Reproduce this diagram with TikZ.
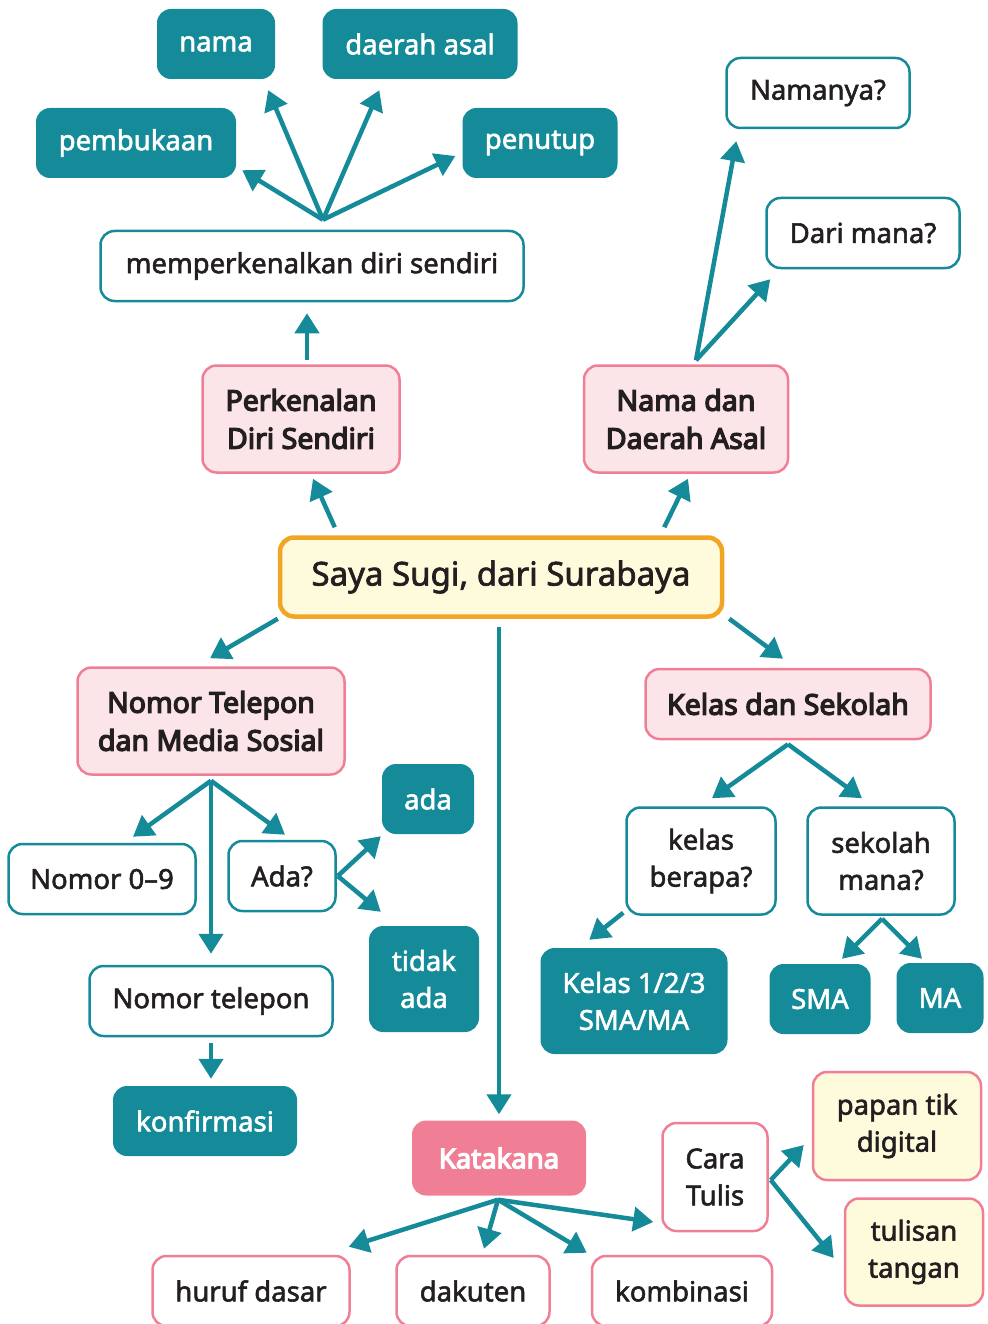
\documentclass[tikz,border=0pt]{standalone}
\usepackage{fontspec}
\setmainfont{Noto Sans}
\newfontfamily\medium{Noto Sans}[FakeBold=2]
\newfontfamily\heavy{Noto Sans}[FakeBold=4.5]
\usetikzlibrary{arrows.meta,calc}

\definecolor{tealc}{HTML}{158B99}
\definecolor{pinkline}{HTML}{F07F96}
\definecolor{pinkfill}{HTML}{FCE5E9}
\definecolor{yellowfill}{HTML}{FEFADC}
\definecolor{orangeline}{HTML}{F2A424}
\definecolor{ink}{HTML}{231F20}

\begin{document}
\begin{tikzpicture}[x=1pt, y=-1pt,
  box/.style = {rounded corners=14, align=center, inner sep=0, minimum height=70,
                font=\fontsize{27.5}{37}\medium, text=ink},
  tealbox/.style = {box, fill=tealc, text=white},
  whitebox/.style = {box, draw=tealc, line width=2.5, fill=white},
  topicbox/.style = {box, draw=pinkline, line width=2.5, fill=pinkfill,
                     font=\fontsize{28.5}{38}\heavy},
  mainbox/.style = {box, draw=orangeline, line width=4.5, fill=yellowfill,
                    font=\fontsize{33}{36}\medium},
  katabox/.style = {box, fill=pinkline, text=white, font=\fontsize{27.5}{37}\heavy},
  carabox/.style = {box, draw=pinkline, line width=2.5, fill=white},
  ybox/.style = {box, draw=pinkline, line width=2.5, fill=yellowfill},
  arr/.style = {draw=tealc, line width=4.5, -{Triangle[length=20,width=24]}}]

\useasboundingbox (0,0) rectangle (987,1324);

% top left: perkenalan
\node[tealbox, minimum width=118] (nama) at (216,44) {nama};
\node[tealbox, minimum width=195] (asal) at (420,44) {daerah asal};
\node[tealbox, minimum width=200] (buka) at (136,143) {pembukaan};
\node[tealbox, minimum width=155] (tutup) at (540,143) {penutup};
\node[whitebox, minimum width=423] (diri) at (312,266) {memperkenalkan diri sendiri};
\node[topicbox, minimum width=197, minimum height=107] (perk) at (301,419) {Perkenalan\\Diri Sendiri};

% top right: nama dan asal
\node[topicbox, minimum width=204, minimum height=107] (nda) at (686,419) {Nama dan\\Daerah Asal};
\node[whitebox, minimum width=183] (namanya) at (818,93) {Namanya?};
\node[whitebox, minimum width=193] (darimana) at (863,233) {Dari mana?};

% center
\node[mainbox, minimum width=442, minimum height=79] (saya) at (501,577) {Saya Sugi, dari Surabaya};

% left: telepon
\node[topicbox, minimum width=267, minimum height=107] (telp) at (211,721) {Nomor Telepon\\dan Media Sosial};
\node[whitebox, minimum width=187] (nol) at (102,879) {Nomor 0–9};
\node[whitebox, minimum width=107] (adaq) at (282,876) {Ada?};
\node[tealbox, minimum width=92] (ada) at (428,799) {ada};
\node[tealbox, minimum width=110, minimum height=106] (tidak) at (424,979) {tidak\\ada};
\node[whitebox, minimum width=243] (nomor) at (211,1001) {Nomor telepon};
\node[tealbox, minimum width=184] (konf) at (205,1121) {konfirmasi};

% right: kelas
\node[topicbox, minimum width=285] (kelas) at (788,704) {Kelas dan Sekolah};
\node[whitebox, minimum width=149, minimum height=107] (berapa) at (701,861) {kelas\\berapa?};
\node[whitebox, minimum width=147, minimum height=107] (mana) at (881,861) {sekolah\\mana?};
\node[tealbox, minimum width=187, minimum height=106] (kls) at (634,1001) {Kelas 1/2/3\\SMA/MA};
\node[tealbox, minimum width=101] (sma) at (820,999) {SMA};
\node[tealbox, minimum width=87] (ma) at (940,998) {MA};

% bottom: katakana
\node[katabox, minimum width=174, minimum height=75] (kata) at (499,1158) {Katakana};
\node[carabox, minimum width=197] (huruf) at (251,1291) {huruf dasar};
\node[carabox, minimum width=153] (daku) at (473,1291) {dakuten};
\node[carabox, minimum width=180] (kombi) at (682,1291) {kombinasi};
\node[carabox, minimum width=105, minimum height=108] (cara) at (715,1177) {Cara\\Tulis};
\node[ybox, minimum width=168, minimum height=108] (papan) at (897,1126) {papan tik\\digital};
\node[ybox, minimum width=138, minimum height=107] (tulisan) at (914,1252) {tulisan\\tangan};

% branch points
\coordinate (h1) at ($(diri.north)+(11,-10)$);
\coordinate (h2) at ($(nda.north)+(10,-4)$);
\coordinate (h3) at ($(telp.south)+(0,5)$);
\coordinate (h4) at ($(adaq.east)+(1,0)$);
\coordinate (h5) at ($(kelas.south)+(0,4)$);
\coordinate (h6) at ($(mana.south)+(1,3)$);
\coordinate (h7) at ($(kata.south)+(-1,4)$);
\coordinate (h8) at ($(cara.east)+(2,3)$);

\draw[arr] (h1) -- ($(nama.south east)+(-7,11)$);
\draw[arr] (h1) -- ($(asal.south west)+(57,11)$);
\draw[arr] (h1) -- ($(buka.south east)+(6,-8)$);
\draw[arr] (h1) -- ($(tutup.west)+(-7,13)$);
\draw[arr] ($(perk.north)+(6,-4)$) -- ($(diri.south)+(-5,11)$);
\draw[arr] (h2) -- ($(namanya.south west)+(11,12)$);
\draw[arr] (h2) -- ($(darimana.south west)+(5,10)$);

\draw[arr] ($(saya.north west)+(57,-8)$) -- ($(perk.south)+(12,5)$);
\draw[arr] ($(saya.north east)+(-60,-8)$) -- ($(nda.south)+(2,5)$);
\draw[arr] ($(saya.south west)+(0,0)$) -- ($(telp.north)+(-1,-8)$);
\draw[arr] ($(saya.south east)+(5,0)$) -- ($(kelas.north)+(-5,-9)$);
\draw[arr] ($(saya.south)+(-2,8)$) -- ($(kata.north)+(0,-6)$);

\draw[arr] (h3) -- ($(nol.north)+(31,-6)$);
\draw[arr] (h3) -- ($(adaq.north)+(3,-5)$);
\draw[arr] (h3) -- ($(nomor.north)+(0,-11)$);
\draw[arr] (h4) -- ($(ada.south west)+(-1,2)$);
\draw[arr] (h4) -- ($(tidak.north west)+(12,-14)$);
\draw[arr] ($(nomor.south)+(0,6)$) -- ($(konf.north)+(6,-7)$);

\draw[arr] (h5) -- ($(berapa.north)+(11,-8)$);
\draw[arr] (h5) -- ($(mana.north)+(-19,-8)$);
\draw[arr] ($(berapa.south west)+(-2,-3)$) -- ($(kls.north west)+(49,-8)$);
\draw[arr] (h6) -- ($(sma.north)+(22,-5)$);
\draw[arr] (h6) -- ($(ma.north)+(-18,-4)$);

\draw[arr] (h7) -- ($(huruf.north east)+(-2,-8)$);
\draw[arr] (h7) -- ($(daku.north)+(11,-6)$);
\draw[arr] (h7) -- ($(kombi.north west)+(-4,-2)$);
\draw[arr] (h7) -- ($(cara.west)+(-8,45)$);
\draw[arr] (h8) -- ($(papan.west)+(-8,19)$);
\draw[arr] (h8) -- ($(tulisan.west)+(-10,6)$);
\end{tikzpicture}
\end{document}
